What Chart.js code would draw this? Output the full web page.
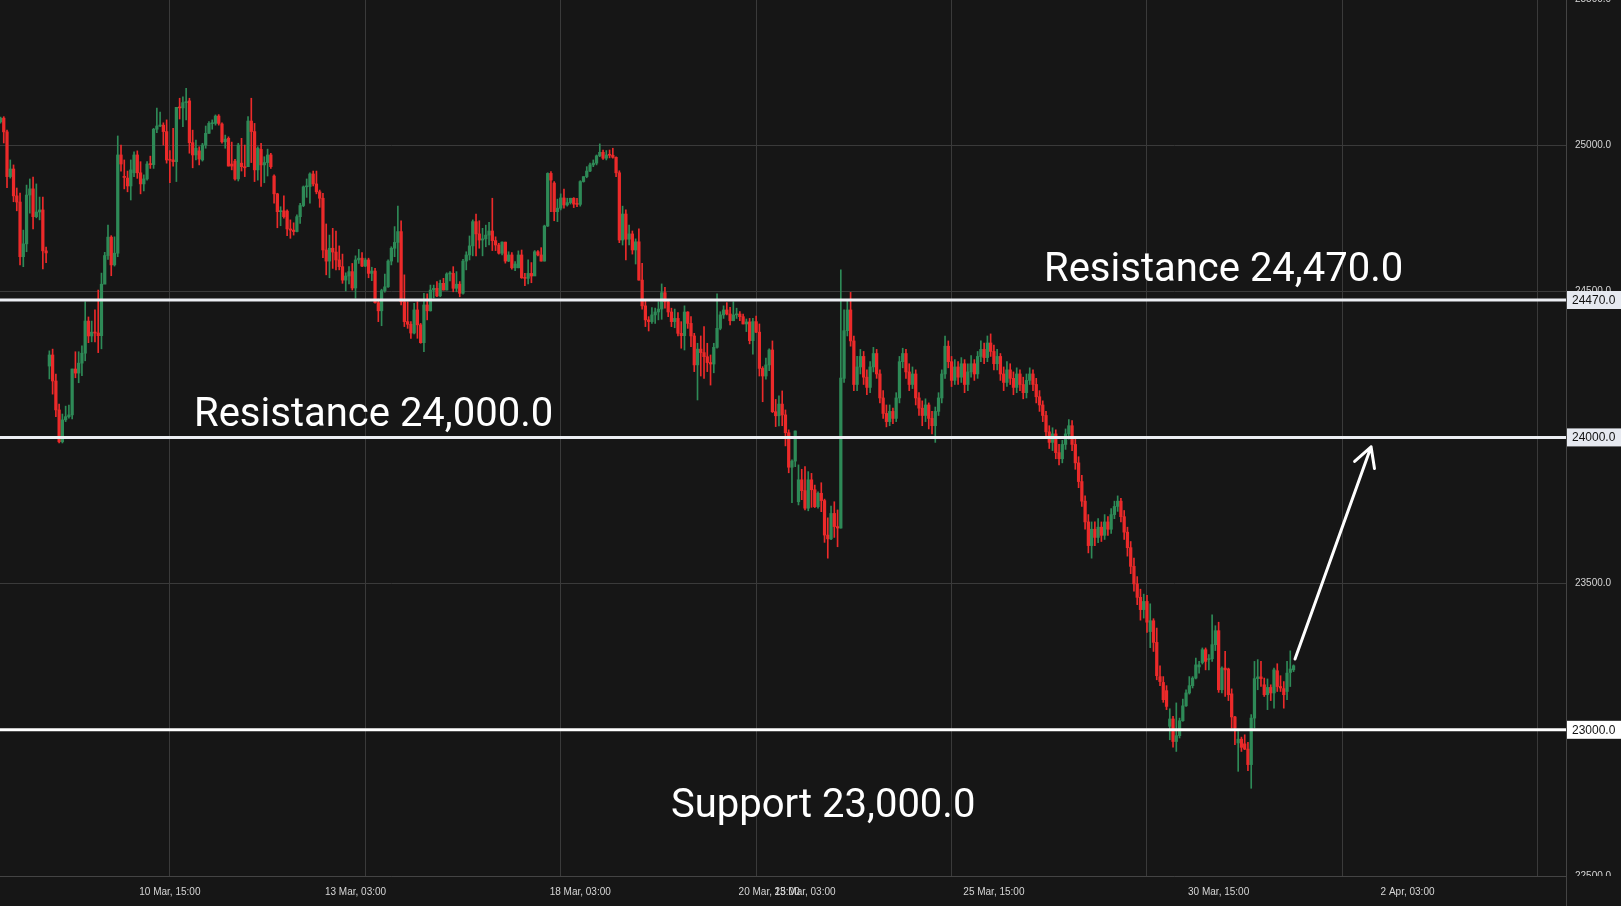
<!DOCTYPE html>
<html lang="en">
<head>
<meta charset="UTF-8">
<title>Chart</title>
<script src="https://cdn.jsdelivr.net/npm/chart.js"></script>
<style>
  html, body { margin: 0; padding: 0; background: #161616; }
</style>
</head>
<body>
<canvas id="chart" width="1621" height="906"></canvas>
<script>
const opens = [25079,25092,25045,24892,24918,24826,24805,24618,24662,24829,
24850,24755,24771,24778,24638,24244,24282,24193,24094,23985,
24060,24071,24077,24234,24220,24254,24288,24398,24347,24360,
24357,24348,24524,24622,24685,24590,24630,24966,24893,24887,
24860,24905,24966,24905,24867,24884,24935,24933,25054,25065,
25068,25046,24950,24949,24943,25129,25127,25145,25151,25008,
24966,24980,24949,25000,25040,25073,25074,25099,25072,25011,
25023,24935,24945,24884,24938,24926,24926,25082,25046,24915,
24985,24932,24940,24966,24894,24833,24772,24775,24774,24713,
24709,24704,24755,24793,24857,24858,24901,24867,24840,24818,
24641,24603,24647,24634,24607,24584,24538,24552,24567,24511,
24607,24613,24586,24607,24561,24569,24461,24433,24502,24515,
24603,24647,24667,24704,24464,24396,24387,24357,24436,24385,
24324,24453,24433,24504,24510,24484,24527,24504,24559,24561,
24510,24524,24493,24603,24624,24655,24738,24696,24675,24679,
24692,24706,24673,24658,24630,24668,24603,24624,24580,24580,
24624,24546,24544,24561,24552,24635,24624,24603,24723,24903,
24870,24772,24784,24819,24795,24803,24818,24798,24797,24875,
24892,24911,24932,24938,24963,24975,24955,24966,24965,24958,
24905,24675,24764,24678,24696,24641,24669,24538,24450,24402,
24396,24419,24429,24439,24495,24464,24429,24396,24407,24356,
24348,24429,24390,24347,24248,24302,24290,24276,24256,24251,
24308,24373,24419,24436,24422,24399,24419,24422,24413,24388,
24395,24331,24396,24360,24236,24210,24248,24299,24088,24074,
24114,24077,24016,23898,23919,23780,23855,23818,23758,23855,
23821,23763,23809,23784,23666,23653,23740,23695,23690,24202,
24365,24436,24330,24181,24241,24277,24206,24171,24241,24287,
24217,24135,24082,24054,24089,24065,24135,24259,24287,24224,
24181,24217,24135,24100,24075,24111,24065,24040,24089,24135,
24217,24312,24259,24195,24241,24206,24252,24181,24224,24252,
24217,24277,24301,24273,24323,24294,24252,24277,24217,24188,
24231,24202,24171,24217,24181,24153,24195,24217,24181,24139,
24111,24075,24019,23983,24012,23948,23927,23976,24012,24040,
23976,23913,23849,23782,23711,23630,23686,23658,23693,23665,
23711,23686,23736,23764,23782,23729,23676,23623,23559,23499,
23453,23411,23439,23336,23373,23299,23182,23162,23134,23012,
23037,22960,22980,23031,23082,23126,23151,23177,23215,23230,
23274,23240,23243,23291,23339,23137,23211,23208,23123,23044,
22955,22968,22952,22934,22881,23040,23175,23181,23154,23120,
23145,23126,23202,23148,23141,23131,23196,23205];
const closes = [25092,25045,24892,24918,24826,24805,24618,24662,24829,24850,
24755,24771,24778,24638,24631,24282,24193,24094,23985,24060,
24071,24077,24234,24220,24254,24288,24398,24347,24360,24357,
24348,24524,24622,24685,24590,24630,24966,24935,24889,24860,
24915,24966,24905,24867,24884,24935,24933,25054,25065,25068,
25046,24949,24948,24943,25129,25127,25145,25147,25008,24966,
24989,24952,25000,25040,25074,25076,25099,25074,25011,25020,
24928,24928,24884,25000,24926,24922,25082,25046,24915,24989,
24932,24940,24966,24926,24833,24772,24775,24755,24713,24709,
24704,24755,24793,24857,24858,24901,24867,24840,24818,24641,
24603,24647,24634,24607,24584,24538,24552,24567,24511,24607,
24613,24586,24607,24561,24569,24461,24433,24502,24515,24603,
24647,24667,24704,24464,24396,24387,24357,24436,24385,24324,
24453,24433,24504,24510,24484,24527,24504,24559,24561,24510,
24524,24493,24603,24624,24655,24738,24696,24675,24679,24692,
24706,24673,24658,24630,24668,24603,24624,24580,24593,24624,
24546,24544,24561,24552,24635,24624,24603,24723,24903,24880,
24772,24784,24819,24795,24803,24818,24798,24797,24875,24892,
24911,24932,24938,24963,24975,24955,24966,24965,24958,24905,
24675,24764,24678,24696,24641,24669,24538,24450,24402,24396,
24419,24429,24439,24495,24464,24429,24396,24407,24356,24348,
24429,24390,24347,24248,24302,24290,24276,24256,24251,24308,
24373,24419,24436,24422,24399,24419,24422,24413,24388,24395,
24331,24396,24360,24236,24210,24248,24299,24088,24074,24114,
24077,24016,23898,23919,24022,23855,23818,23758,23855,23821,
23763,23809,23784,23666,23653,23740,23695,23690,24203,24365,
24436,24330,24181,24241,24277,24206,24171,24241,24287,24217,
24135,24082,24054,24089,24065,24135,24259,24287,24224,24181,
24217,24135,24100,24075,24111,24065,24040,24089,24135,24217,
24312,24259,24195,24241,24206,24252,24181,24224,24252,24217,
24277,24301,24273,24323,24294,24252,24277,24217,24188,24231,
24202,24171,24217,24181,24153,24195,24217,24181,24139,24111,
24075,24019,23983,24012,23948,23927,23976,24012,24040,23976,
23913,23849,23782,23711,23630,23686,23658,23693,23665,23711,
23686,23736,23764,23782,23729,23676,23623,23559,23499,23453,
23411,23439,23368,23373,23299,23185,23165,23103,23080,23037,
22960,22980,23031,23082,23126,23151,23177,23222,23222,23274,
23234,23243,23291,23339,23137,23211,23205,23120,23044,23006,
22968,22940,22934,22881,23040,23175,23181,23175,23120,23145,
23126,23205,23148,23143,23120,23194,23208,23219];
const highs = [25096,25097,25051,24949,24932,24853,24836,24709,24863,24884,
24890,24867,24822,24822,24651,24296,24302,24217,24114,24080,
24107,24111,24234,24293,24293,24313,24464,24412,24398,24436,
24504,24562,24633,24726,24690,24686,25031,25000,24949,24911,
24949,24977,24980,24943,24898,24943,24962,25057,25126,25113,
25076,25086,24981,25057,25129,25160,25165,25194,25160,25051,
25017,24994,25006,25065,25080,25086,25103,25104,25076,25034,
25028,25010,24951,25006,25023,25000,25097,25160,25074,24994,
25006,24960,24986,24972,24898,24835,24789,24826,24778,24744,
24734,24761,24801,24860,24884,24905,24911,24911,24846,24835,
24730,24692,24715,24706,24655,24627,24563,24584,24595,24621,
24643,24632,24613,24613,24582,24578,24473,24507,24559,24607,
24652,24721,24791,24741,24556,24464,24396,24459,24464,24390,
24493,24491,24521,24521,24533,24538,24544,24563,24567,24584,
24567,24533,24609,24635,24689,24744,24764,24741,24715,24726,
24736,24818,24686,24664,24669,24668,24635,24632,24601,24638,
24641,24561,24607,24598,24639,24639,24649,24726,24905,24909,
24875,24815,24833,24849,24818,24818,24820,24818,24878,24892,
24926,24938,24949,24966,25004,24983,24981,24983,24989,24960,
24912,24791,24778,24726,24706,24679,24713,24595,24470,24413,
24444,24442,24464,24525,24513,24468,24442,24439,24427,24396,
24450,24430,24413,24356,24322,24347,24379,24322,24282,24322,
24491,24430,24450,24461,24445,24464,24442,24430,24422,24405,
24407,24407,24415,24388,24242,24271,24303,24330,24130,24142,
24159,24094,24026,23923,24022,23906,23891,23900,23883,23877,
23837,23814,23845,23789,23725,23765,23780,23752,24573,24436,
24471,24496,24347,24277,24301,24294,24231,24259,24308,24301,
24231,24160,24111,24111,24100,24153,24277,24305,24301,24252,
24241,24231,24153,24125,24132,24118,24089,24104,24153,24231,
24347,24330,24277,24266,24259,24273,24266,24252,24280,24266,
24294,24330,24323,24347,24354,24316,24301,24287,24241,24259,
24252,24224,24238,24231,24206,24217,24238,24231,24202,24160,
24125,24089,24040,24033,24026,23976,23990,24029,24061,24058,
23994,23934,23870,23800,23736,23711,23711,23722,23711,23736,
23729,23757,23782,23800,23792,23750,23693,23644,23587,23524,
23481,23464,23460,23431,23380,23348,23219,23182,23151,23072,
23046,23092,23040,23105,23137,23182,23182,23245,23234,23280,
23280,23257,23393,23356,23368,23215,23268,23211,23140,23046,
22994,22975,22983,22957,23052,23234,23240,23234,23177,23174,
23154,23211,23226,23185,23165,23234,23270,23222];
const lows = [25075,25007,24854,24887,24806,24775,24590,24584,24635,24767,
24713,24751,24744,24576,24598,24200,24148,24071,23981,23981,
24054,24066,24063,24204,24187,24211,24262,24324,24327,24327,
24290,24303,24529,24609,24553,24586,24618,24911,24850,24840,
24812,24892,24886,24833,24843,24880,24920,24920,25042,25063,
25000,24938,24871,24928,24875,25089,25063,25086,24972,24922,
24949,24932,24945,24989,25040,25054,25068,25068,25006,24989,
24928,24915,24880,24877,24911,24892,24926,24940,24875,24880,
24858,24871,24894,24920,24801,24717,24724,24750,24690,24681,
24692,24703,24732,24789,24821,24801,24860,24833,24787,24615,
24556,24546,24578,24573,24573,24527,24501,24525,24504,24476,
24595,24584,24584,24546,24536,24459,24396,24382,24497,24513,
24590,24618,24599,24453,24379,24373,24339,24354,24339,24322,
24293,24402,24432,24477,24481,24481,24504,24504,24535,24498,
24498,24481,24490,24573,24607,24621,24621,24647,24621,24652,
24658,24639,24639,24627,24624,24596,24601,24575,24570,24580,
24544,24519,24525,24529,24559,24621,24603,24603,24721,24772,
24741,24738,24778,24784,24791,24798,24786,24789,24791,24873,
24888,24909,24926,24932,24960,24951,24949,24956,24955,24892,
24666,24658,24607,24658,24627,24593,24538,24439,24379,24364,
24390,24390,24402,24404,24442,24413,24379,24375,24347,24305,
24299,24373,24310,24225,24128,24210,24202,24225,24179,24221,
24305,24368,24407,24419,24385,24399,24407,24399,24388,24362,
24320,24285,24358,24210,24122,24199,24228,24085,24037,24039,
24040,23971,23879,23777,23900,23769,23787,23752,23749,23761,
23760,23758,23746,23641,23587,23650,23658,23626,23690,24188,
24347,24312,24160,24160,24217,24181,24146,24153,24224,24202,
24118,24065,24036,24040,24047,24054,24118,24238,24202,24160,
24167,24111,24075,24040,24054,24029,24012,23983,24075,24118,
24202,24238,24174,24181,24181,24188,24153,24160,24206,24195,
24202,24259,24252,24259,24277,24231,24231,24195,24160,24174,
24181,24146,24153,24160,24132,24135,24181,24160,24118,24089,
24054,23997,23962,23955,23927,23906,23913,23959,23994,23955,
23891,23828,23764,23686,23605,23587,23630,23640,23644,23651,
23665,23672,23722,23747,23711,23651,23594,23534,23474,23428,
23375,23382,23333,23281,23268,23171,23151,23094,23069,22966,
22941,22926,22972,23029,23080,23122,23143,23174,23194,23225,
23205,23205,23234,23271,23128,23126,23114,23100,23006,22949,
22858,22926,22932,22860,22800,23006,23137,23148,23114,23069,
23100,23074,23131,23131,23074,23103,23148,23199];

const yTicks = [22500, 23000, 23500, 24000, 24500, 25000, 25500];
const xGridIndex = [52, 112, 172, 232, 292, 352, 412, 472];
const xTickLabels = ['10 Mar, 15:00', '13 Mar, 03:00', '18 Mar, 03:00', '20 Mar, 15:00',
  '23 Mar, 03:00', '25 Mar, 15:00', '30 Mar, 15:00', '2 Apr, 03:00'];
const xTickIndex = [52, 109, 178, 236, 247, 305, 374, 432];
const levels = [24470, 24000, 23000];
const levelTexts = ['Resistance 24,470.0', 'Resistance 24,000.0', 'Support 23,000.0'];
const arrowFrom = [397.45, 23242];
const arrowTo = [420.8, 23968];

const GREEN = '#2e8a57';
const RED = '#ec2a2a';
const GRID = '#3a3a3a';
const candleColor = ctx => closes[ctx.dataIndex] >= opens[ctx.dataIndex] ? GREEN : RED;

const overlay = {
  id: 'overlay',
  beforeDraw(chart) {
    const c = chart.ctx;
    c.save();
    c.fillStyle = '#161616';
    c.fillRect(0, 0, chart.width, chart.height);
    c.restore();
  },
  afterDraw(chart) {
    const c = chart.ctx;
    const xs = chart.scales.x, ys = chart.scales.y;
    const area = chart.chartArea;
    c.save();

    // level lines
    levels.forEach((v, i) => {
      const y = ys.getPixelForValue(v);
      c.strokeStyle = i === 2 ? '#ffffff' : '#eceef3';
      c.lineWidth = 3;
      c.beginPath();
      c.moveTo(area.left, y);
      c.lineTo(area.right, y);
      c.stroke();
    });

    // axis borders
    c.strokeStyle = '#444444';
    c.lineWidth = 1;
    c.beginPath();
    c.moveTo(area.left, Math.round(area.bottom) + 0.5);
    c.lineTo(area.right, Math.round(area.bottom) + 0.5);
    c.moveTo(Math.round(area.right) + 0.5, 0);
    c.lineTo(Math.round(area.right) + 0.5, chart.height);
    c.stroke();

    // price axis labels
    c.save();
    c.beginPath();
    c.rect(area.right + 1, 0, chart.width - area.right, area.bottom);
    c.clip();
    c.fillStyle = '#d6d6d6';
    c.font = '10px "Liberation Sans", Arial, sans-serif';
    c.textAlign = 'left';
    c.textBaseline = 'middle';
    yTicks.forEach(v => {
      c.fillText(v.toFixed(1), area.right + 9, ys.getPixelForValue(v));
    });
    c.restore();

    // level boxes on price axis
    levels.forEach((v, i) => {
      const y = ys.getPixelForValue(v);
      c.fillStyle = i === 2 ? '#ffffff' : '#e6e9f0';
      c.fillRect(area.right + 1, y - 9, chart.width - area.right, 18);
      c.fillStyle = '#111111';
      c.font = '12px "Liberation Sans", Arial, sans-serif';
      c.textAlign = 'left';
      c.textBaseline = 'middle';
      c.fillText(v.toFixed(1), area.right + 6, y + 0.5);
    });

    // time axis labels
    c.fillStyle = '#d6d6d6';
    c.font = '10px "Liberation Sans", Arial, sans-serif';
    c.textAlign = 'center';
    c.textBaseline = 'middle';
    xTickLabels.forEach((t, i) => {
      c.fillText(t, xs.getPixelForValue(xTickIndex[i]), area.bottom + 16);
    });

    // annotation texts
    c.fillStyle = '#ffffff';
    c.font = '40px Roboto, "Noto Sans", sans-serif';
    c.textAlign = 'left';
    c.textBaseline = 'alphabetic';
    const textPos = [[1044, -19], [194, -11], [671, 87]];
    levelTexts.forEach((t, i) => {
      c.fillText(t, textPos[i][0], ys.getPixelForValue(levels[i]) + textPos[i][1]);
    });

    // arrow
    const x0 = xs.getPixelForValue(arrowFrom[0]), y0 = ys.getPixelForValue(arrowFrom[1]);
    const x1 = xs.getPixelForValue(arrowTo[0]), y1 = ys.getPixelForValue(arrowTo[1]);
    const ang = Math.atan2(y1 - y0, x1 - x0);
    const head = 22, spread = 0.5;
    c.strokeStyle = '#ffffff';
    c.lineWidth = 3;
    c.lineCap = 'round';
    c.lineJoin = 'round';
    c.beginPath();
    c.moveTo(x0, y0);
    c.lineTo(x1, y1);
    c.moveTo(x1 - head * Math.cos(ang - spread), y1 - head * Math.sin(ang - spread));
    c.lineTo(x1, y1);
    c.lineTo(x1 - head * Math.cos(ang + spread), y1 - head * Math.sin(ang + spread));
    c.stroke();

    c.restore();
  }
};

new Chart(document.getElementById('chart'), {
  type: 'bar',
  data: {
    datasets: [
      {
        label: 'wick',
        data: opens.map((o, i) => ({ x: i, y: [lows[i], highs[i]] })),
        backgroundColor: candleColor,
        barThickness: 1,
        grouped: false,
        order: 2
      },
      {
        label: 'body',
        data: opens.map((o, i) => ({ x: i, y: [o, closes[i]] })),
        backgroundColor: candleColor,
        barThickness: 2.6,
        minBarLength: 1,
        grouped: false,
        order: 1
      }
    ]
  },
  options: {
    responsive: false,
    animation: false,
    layout: { padding: { left: 0, top: 0, right: 55, bottom: 30 } },
    plugins: { legend: { display: false }, tooltip: { enabled: false } },
    scales: {
      x: {
        type: 'linear',
        min: -0.154,
        max: 480.65,
        offset: false,
        afterBuildTicks: a => { a.ticks = xGridIndex.map(v => ({ value: v })); },
        grid: { color: GRID, drawTicks: false, offset: false },
        border: { display: false },
        ticks: { display: false }
      },
      y: {
        type: 'linear',
        position: 'right',
        min: 22500,
        max: 25496,
        afterBuildTicks: a => { a.ticks = yTicks.filter(v => v < 25496).map(v => ({ value: v })); },
        grid: { color: GRID, drawTicks: false },
        border: { display: false },
        ticks: { display: false }
      }
    }
  },
  plugins: [overlay]
});
</script>
</body>
</html>
